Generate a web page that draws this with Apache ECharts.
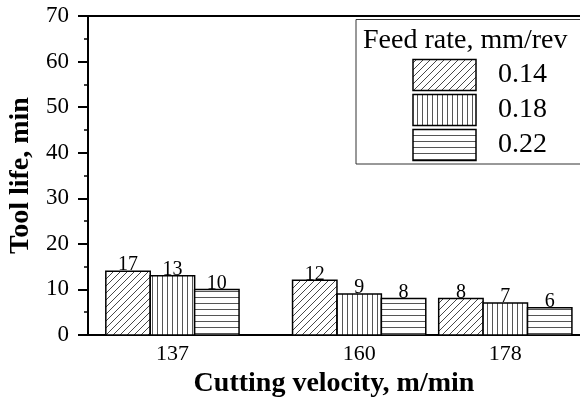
<!DOCTYPE html>
<html><head><meta charset="utf-8">
<script src="https://cdn.jsdelivr.net/npm/echarts@6/dist/echarts.min.js"></script>
<style>html,body{margin:0;padding:0;background:#fff}#c{width:580px;height:399px}</style>
</head><body><div id="c"></div>
<script>
var velocities = [137, 160, 178];
var feedRates = ['0.14', '0.18', '0.22'];
var life014 = [14, 12, 8];
var life018 = [13, 9, 7];
var life022 = [10, 8, 6];
var labels014 = ['17', '12', '8'];
var labels018 = ['13', '9', '7'];
var labels022 = ['10', '8', '6'];
var yTicks = [0, 10, 20, 30, 40, 50, 60, 70];
var legendTitle = 'Feed rate, mm/rev';

var seriesValues = [life014, life018, life022];
var seriesLabels = [labels014, labels018, labels022];

function makePattern(kind) {
  var c = document.createElement('canvas');
  var ctx;
  if (kind === 'diag') {
    var s = 7; c.width = s; c.height = s; ctx = c.getContext('2d');
    ctx.fillStyle = '#fff'; ctx.fillRect(0, 0, s, s);
    ctx.strokeStyle = '#333'; ctx.lineWidth = 0.9;
    ctx.beginPath();
    ctx.moveTo(0, s); ctx.lineTo(s, 0);
    ctx.moveTo(-1, 1); ctx.lineTo(1, -1);
    ctx.moveTo(s - 1, s + 1); ctx.lineTo(s + 1, s - 1);
    ctx.stroke();
  } else if (kind === 'vert') {
    c.width = 5; c.height = 5; ctx = c.getContext('2d');
    ctx.fillStyle = '#fff'; ctx.fillRect(0, 0, 5, 5);
    ctx.fillStyle = '#555'; ctx.fillRect(2, 0, 1, 5);
  } else {
    c.width = 6; c.height = 6; ctx = c.getContext('2d');
    ctx.fillStyle = '#fff'; ctx.fillRect(0, 0, 6, 6);
    ctx.fillStyle = '#555'; ctx.fillRect(0, 3, 6, 1);
  }
  return { image: c, repeat: 'repeat' };
}
var patterns = [makePattern('diag'), makePattern('vert'), makePattern('horz')];

var FONT = 'Liberation Serif';
var barWidthUnits = 5.47;

var series = seriesValues.map(function (vals, i) {
  return {
    type: 'custom',
    name: feedRates[i],
    data: velocities.map(function (v, j) { return [v, vals[j], seriesLabels[i][j]]; }),
    encode: { x: 0, y: 1 },
    renderItem: function (params, api) {
      var top = api.coord([api.value(0), api.value(1)]);
      var base = api.coord([api.value(0), 0]);
      var w = api.size([barWidthUnits, 0])[0];
      var cx = top[0] + (i - 1) * w;
      var lbl = seriesLabels[i][params.dataIndex];
      return {
        type: 'group',
        children: [
          { type: 'rect', shape: { x: cx - w / 2, y: top[1], width: w, height: base[1] - top[1] },
            style: { fill: patterns[i], stroke: '#000', lineWidth: 1.5 } },
          { type: 'text', x: cx, y: top[1] + 4,
            style: { text: lbl, fill: '#000', fontSize: 20, fontFamily: FONT, align: 'center', verticalAlign: 'bottom' } }
        ]
      };
    }
  };
});

// legend graphics
var graphics = [
  { type: 'rect', shape: { x: 356, y: 19.5, width: 240, height: 144.5 },
    style: { fill: '#fff', stroke: '#333', lineWidth: 1 }, z: 10 },
  { type: 'text', x: 363, y: 41, style: { text: legendTitle, fill: '#000', fontSize: 28, fontFamily: FONT, verticalAlign: 'middle' }, z: 11 }
];
var swY = [59.5, 94.5, 129.5];
feedRates.forEach(function (fr, i) {
  graphics.push({ type: 'rect', shape: { x: 413, y: swY[i], width: 63, height: 31 },
    style: { fill: patterns[i], stroke: '#000', lineWidth: 1.5 }, z: 11 });
  graphics.push({ type: 'text', x: 498, y: swY[i] + 15,
    style: { text: fr, fill: '#000', fontSize: 28, fontFamily: FONT, verticalAlign: 'middle' }, z: 11 });
});

var chart = echarts.init(document.getElementById('c'), null, { renderer: 'canvas' });
chart.setOption({
  animation: false,
  backgroundColor: '#fff',
  grid: { left: 88, right: 0, top: 16, bottom: 64, containLabel: false, outerBoundsMode: 'none' },
  xAxis: [{
    type: 'value', min: 126.6, max: 187.2,
    axisLine: { show: true, onZero: false, lineStyle: { color: '#000', width: 2 } },
    axisTick: { show: false },
    splitLine: { show: false },
    axisLabel: { customValues: velocities, margin: 8, color: '#000', fontFamily: FONT, fontSize: 22,
      formatter: function (v) { return String(v); } },
    name: 'Cutting velocity, m/min', nameLocation: 'middle', nameGap: 31,
    nameTextStyle: { color: '#000', fontFamily: FONT, fontSize: 28, fontWeight: 'bold' }
  }, {
    type: 'value', position: 'top', min: 126.6, max: 187.2,
    axisLine: { show: true, onZero: false, lineStyle: { color: '#000', width: 2 } },
    axisTick: { show: false }, axisLabel: { show: false }, splitLine: { show: false }
  }],
  yAxis: {
    type: 'value', min: 0, max: 70, interval: 10,
    axisLine: { show: true, lineStyle: { color: '#000', width: 2 } },
    axisTick: { show: true, length: 10, lineStyle: { color: '#000', width: 2 } },
    minorTick: { show: true, splitNumber: 2, length: 4, lineStyle: { color: '#000', width: 1.5 } },
    splitLine: { show: false },
    axisLabel: { margin: 19, color: '#000', fontFamily: FONT, fontSize: 23,
      formatter: function (v) { return yTicks.indexOf(v) >= 0 ? String(v) : ''; } },
    name: 'Tool life, min', nameLocation: 'middle', nameGap: 52,
    nameTextStyle: { color: '#000', fontFamily: FONT, fontSize: 28, fontWeight: 'bold' }
  },
  series: series,
  graphic: graphics
});
</script></body></html>
